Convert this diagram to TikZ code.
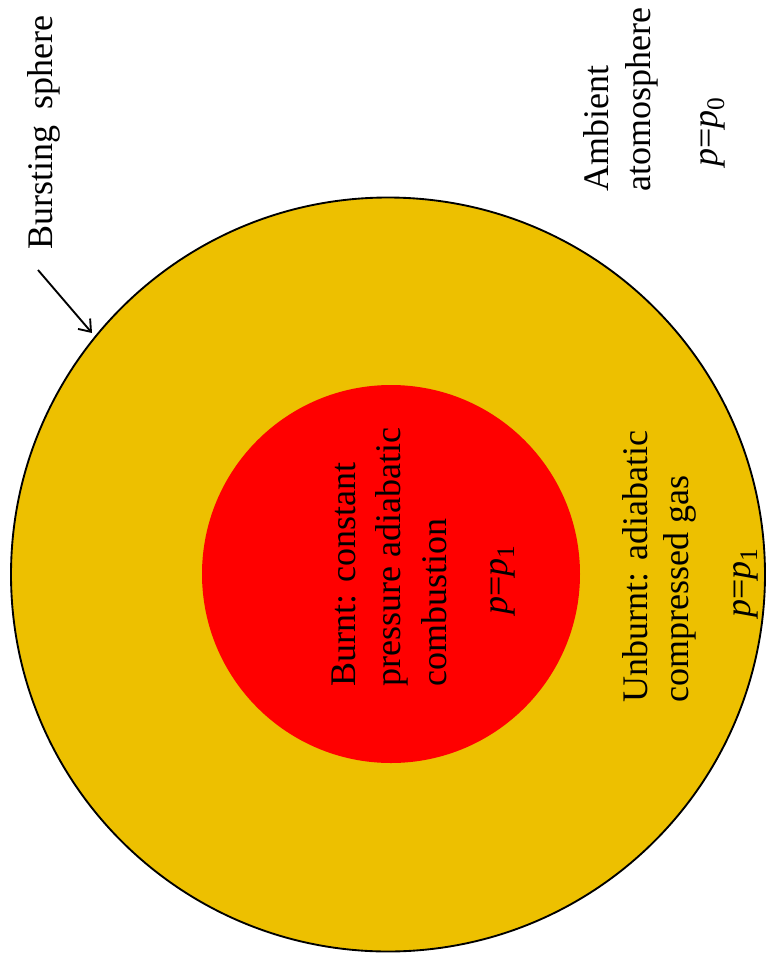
\documentclass[tikz,border=0pt]{standalone}
\usepackage{fontspec}
\setmainfont{Liberation Serif}
\usetikzlibrary{arrows.meta}
\definecolor{gold}{RGB}{237,192,0}
\definecolor{burnt}{RGB}{255,0,0}
\tikzset{
  lbl/.style={rotate=90, inner sep=0pt, font=\fontsize{27}{32}\selectfont},
  linelbl/.style={lbl, anchor=base west},
  eqlbl/.style={lbl, anchor=base},
}
\newcommand{\peq}[1]{\textit{p}=\textit{p}\raisebox{-0.2em}{\fontsize{19}{20}\selectfont #1}}
\begin{document}
\begin{tikzpicture}[x=0.75pt,y=-0.75pt]
\useasboundingbox (0,0) rectangle (766,958);
\fill[white] (0,0) rectangle (766,958);
% spheres
\filldraw[fill=gold, draw=black, line width=1.4pt] (388,574.5) circle [radius=377];
\fill[burnt] (391,574) circle [radius=189];
% labels
\node[linelbl] (bs) at (52,250) {Bursting\hspace{0.45em}sphere};
\node[linelbl] (amb1) at (608,192) {Ambient};
\node[linelbl] (amb2) at (650,192) {atomosphere};
\node[eqlbl] (p0) at (717,132) {\peq{0}};
\node[linelbl] (bu1) at (355,687) {Burnt: constant};
\node[linelbl] (bu2) at (400,687) {pressure adiabatic};
\node[linelbl] (bu3) at (446,687) {combustion};
\node[eqlbl] (pb) at (507,580) {\peq{1}};
\node[linelbl] (un1) at (647,703) {Unburnt: adiabatic};
\node[linelbl] (un2) at (688,703) {compressed gas};
\node[eqlbl] (pu) at (750,583) {\peq{1}};
% arrow
\coordinate (astart) at (38,270);
\coordinate (atip) at (92,333);
\draw[line width=1.4pt, -{Straight Barb[length=8pt,width=12pt,line width=1.4pt]}] (astart) -- (atip);
\end{tikzpicture}
\end{document}
